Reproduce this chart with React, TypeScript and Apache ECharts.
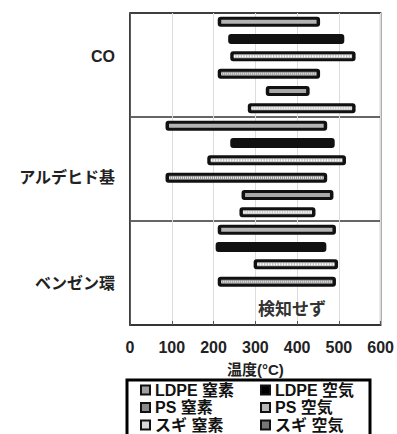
import React, { useEffect, useRef } from "react";
import * as echarts from "echarts";

const groups = ["CO", "アルデヒド基", "ベンゼン環"];
const seriesNames = ["LDPE 窒素", "LDPE 空気", "PS 窒素", "PS 空気", "スギ 窒素", "スギ 空気"];
// [start, end] per group (°C); null = not detected
const ldpeN2 = [[210, 455], [85, 472], [210, 493]];
const ldpeAir = [[235, 513], [240, 490], [205, 470]];
const psN2 = [[240, 540], [185, 517], [296, 498]];
const psAir = [[210, 455], [85, 472], [210, 493]];
const sugiN2 = [[325, 430], [267, 487], null];
const sugiAir = [[282, 540], [262, 444], null];
const notDetectedText = "検知せず";
const notDetectedGroup = 2;
const notDetectedX = 388;
const xTicks = [0, 100, 200, 300, 400, 500, 600];
const xName = "温度(°C)";

const FONT = "'Liberation Sans', Arial, 'Noto Sans CJK JP', sans-serif";

const allData = [ldpeN2, ldpeAir, psN2, psAir, sugiN2, sugiAir];
const styles = [
  { fill: "#b4b4b4", dash: null, dashColor: "" },
  { fill: "#111", dash: null, dashColor: "" },
  { fill: "#bdbdbd", dash: [1.5, 1.2], dashColor: "#fff" },
  { fill: "#9a9a9a", dash: [1, 1], dashColor: "#e8e8e8" },
  { fill: "#a8a8a8", dash: null, dashColor: "" },
  { fill: "#c8c8c8", dash: [1.5, 1], dashColor: "#f4f4f4" },
];
const legendColors = ["#a0a0a0", "#000", "#8a8a8a", "#b8b8b8", "#d8d8d8", "#777"];
const labelShift = [
  [0, 0, 18, 0],
  [17, 0, 0, 0],
  [21, 0, 0, 0],
];

function makeRender(slot: number, st: any) {
  return (params: any, api: any) => {
    const g = api.value(0);
    const s = api.value(1);
    const e = api.value(2);
    const p0 = api.coord([s, g]);
    const p1 = api.coord([e, g]);
    const band = api.size([0, 1])[1];
    const slotH = band / 6;
    const cy = p0[1] + (slot - 2.5) * slotH;
    const w = p1[0] - p0[0];
    const h = 10;
    const children: any[] = [
      {
        type: "rect",
        shape: { x: p0[0], y: cy - h / 2, width: w, height: h, r: 3 },
        style: { fill: "#111" },
      },
    ];
    if (slot !== 1) {
      children.push({
        type: "rect",
        shape: { x: p0[0] + 3.5, y: cy - 2, width: w - 7, height: 4 },
        style: { fill: st.fill },
      });
      if (st.dash) {
        children.push({
          type: "line",
          shape: { x1: p0[0] + 3.5, y1: cy, x2: p1[0] - 3.5, y2: cy },
          style: { stroke: st.dashColor, lineWidth: 2, lineDash: st.dash },
        });
      }
    }
    return { type: "group", children };
  };
}

export default function App() {
  const ref = useRef<HTMLDivElement>(null);
  useEffect(() => {
    if (!ref.current) return;
    const chart = echarts.init(ref.current, null, { renderer: "svg" });
    const series: any[] = seriesNames.map((name, i) => ({
      type: "custom",
      name,
      renderItem: makeRender(i, styles[i]),
      encode: { x: [1, 2], y: 0 },
      itemStyle: { color: legendColors[i] },
      data: allData[i]
        .map((r, gi) => (r ? [gi, r[0], r[1]] : null))
        .filter((d) => d !== null),
    }));
    series.push({
      type: "custom",
      name: "nd",
      renderItem: (params: any, api: any) => {
        const p = api.coord([api.value(1), api.value(0)]);
        const band = api.size([0, 1])[1];
        return {
          type: "text",
          x: p[0],
          y: p[1] + (2.1 * band) / 6,
          style: {
            text: notDetectedText,
            fontSize: 17,
            fontWeight: "bold",
            fontFamily: FONT,
            fill: "#333",
            align: "center",
            verticalAlign: "middle",
          },
        };
      },
      encode: { x: 1, y: 0 },
      data: [[notDetectedGroup, notDetectedX]],
    });

    const legendItem = (i: number) => ({
      name: seriesNames[i],
      icon: "rect",
      itemStyle: { color: legendColors[i], borderColor: "#111", borderWidth: 2 },
    });
    const legendCommon = {
      orient: "vertical",
      top: 382,
      height: 80,
      padding: 0,
      itemWidth: 9,
      itemHeight: 9,
      itemGap: 1.5,
      selectedMode: false,
      textStyle: { fontSize: 16, lineHeight: 16, fontFamily: FONT, color: "#111", fontWeight: "bold" },
    };

    const rich: any = {};
    groups.forEach((_, i) => {
      rich["g" + i] = {
        padding: labelShift[i],
        fontSize: 16,
        fontWeight: "bold",
        color: "#222",
        fontFamily: FONT,
      };
    });

    chart.setOption({
      animation: false,
      textStyle: { fontFamily: FONT },
      grid: {
        left: 130,
        right: 13,
        top: 13,
        bottom: 109,
        show: true,
        borderColor: "#333",
        borderWidth: 1.5,
      },
      xAxis: {
        type: "value",
        min: xTicks[0],
        max: xTicks[xTicks.length - 1],
        interval: 100,
        name: xName,
        nameLocation: "middle",
        nameGap: 37,
        nameTextStyle: { fontSize: 15, fontWeight: "bold", color: "#222", fontFamily: FONT },
        axisLine: { show: true, lineStyle: { color: "#333", width: 1.5 } },
        axisTick: { show: true, inside: true, length: 4, lineStyle: { color: "#555" } },
        axisLabel: { fontSize: 16, fontWeight: "bold", color: "#222", margin: 14, fontFamily: FONT },
        splitLine: { show: true, lineStyle: { color: "#dcdcdc", width: 1 } },
      },
      yAxis: {
        type: "category",
        inverse: true,
        data: groups,
        axisLine: { show: true, lineStyle: { color: "#333", width: 1.5 } },
        axisTick: { show: false },
        axisLabel: {
          fontSize: 16,
          fontWeight: "bold",
          color: "#222",
          margin: 15,
          fontFamily: FONT,
          formatter: (v: string, idx: number) => `{g${idx}|${v}}`,
          rich,
        },
        splitLine: { show: true, lineStyle: { color: "#333", width: 1.5 } },
      },
      legend: [
        { ...legendCommon, left: 140, data: [legendItem(0), legendItem(2), legendItem(4)] },
        { ...legendCommon, left: 260, data: [legendItem(1), legendItem(3), legendItem(5)] },
      ],
      graphic: [
        {
          type: "rect",
          shape: { x: 127, y: 380, width: 243, height: 70 },
          style: { fill: "none", stroke: "#000", lineWidth: 3 },
          silent: true,
        },
      ],
      series,
    });
    return () => chart.dispose();
  }, []);
  return (
    <div
      ref={ref}
      style={{ position: "absolute", left: 0, top: 0, width: 397, height: 434, background: "#fff" }}
    />
  );
}
